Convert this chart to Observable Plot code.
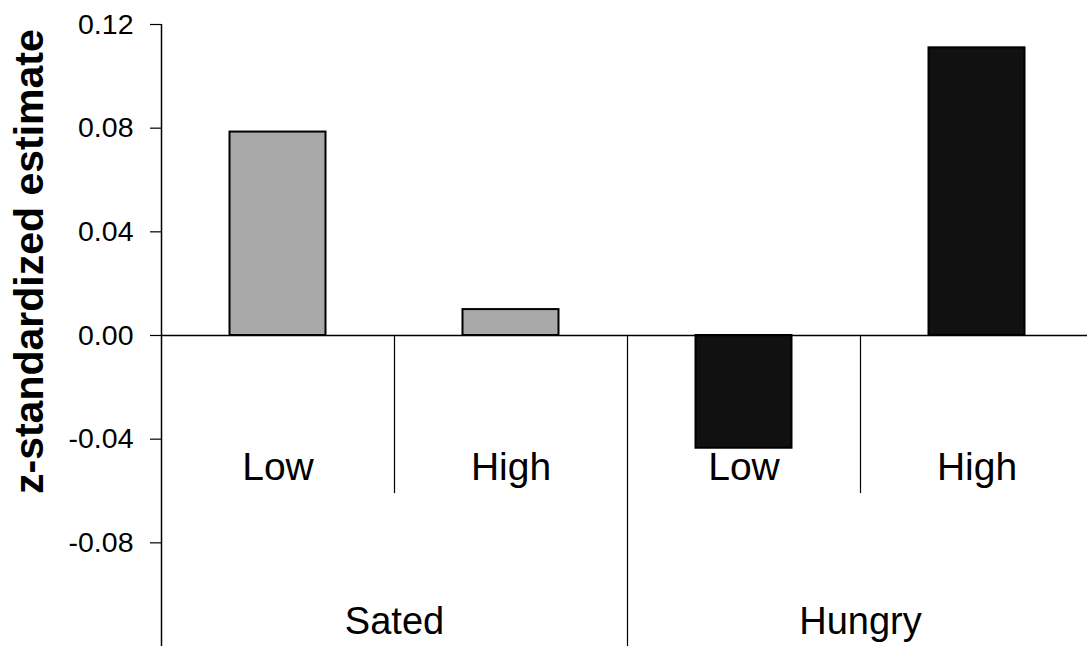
<!DOCTYPE html>
<html>
<head>
<meta charset="utf-8">
<script src="https://cdn.jsdelivr.net/npm/d3@7"></script>
<script src="https://cdn.jsdelivr.net/npm/@observablehq/plot@0.6"></script>
<style>
  html, body { margin: 0; padding: 0; background: #fff; }
  svg { font-family: "Liberation Sans", Arial, sans-serif; }
</style>
</head>
<body>
<div id="chart"></div>
<script>
const conditions = ["Low", "High", "Low", "High"];
const groupOf = ["Sated", "Sated", "Hungry", "Hungry"];
const groups = ["Sated", "Hungry"];
const values = [0.0785, 0.010, -0.0435, 0.111];
const yTicks = [-0.08, -0.04, 0, 0.04, 0.08, 0.12];
const yTitle = "z-standardized estimate";

const data = conditions.map((c, i) => ({ i, condition: c, group: groupOf[i], value: values[i] }));
const groupData = groups.map((g, k) => ({ group: g, center: 2 * k + 1 }));
const separators = [
  { pos: 1, depth: -0.061 },
  { pos: 2, depth: -0.12 },
  { pos: 3, depth: -0.061 }
];
const half = 0.206;

const chart = Plot.plot({
  width: 1087,
  height: 646,
  marginTop: 24,
  marginBottom: 0,
  marginLeft: 161,
  marginRight: 0,
  x: { type: "linear", domain: [0, 4], range: [161, 1093], axis: null },
  y: { domain: [-0.12, 0.12], axis: null },
  marks: [
    Plot.rect(data, {
      x1: d => d.i + 0.5 - half,
      x2: d => d.i + 0.5 + half,
      y1: 0,
      y2: "value",
      fill: d => d.group === "Sated" ? "#a9a9a9" : "#111111",
      stroke: "#000",
      strokeWidth: 2
    }),
    Plot.ruleY([0], { x1: 0, x2: 4, stroke: "#000", strokeWidth: 1.5 }),
    Plot.ruleX([0], { y1: -0.12, y2: 0.12, stroke: "#000", strokeWidth: 1.5 }),
    Plot.ruleX(separators, { x: "pos", y1: 0, y2: "depth", stroke: "#000", strokeWidth: 1.2 }),
    Plot.axisY({
      ticks: yTicks,
      tickFormat: d => d.toFixed(2),
      tickSize: 11,
      tickPadding: 17,
      fontSize: 28.5,
      stroke: "#000",
      strokeWidth: 1.2,
      fill: "#000",
      label: null
    }),
    Plot.text(data, {
      x: d => d.i + 0.5,
      y: -0.051,
      text: "condition",
      fontSize: 39,
      fill: "#000",
      textAnchor: "middle",
      lineAnchor: "middle"
    }),
    Plot.text(groupData, {
      x: "center",
      y: -0.1105,
      text: "group",
      fontSize: 38,
      fill: "#000",
      textAnchor: "middle",
      lineAnchor: "middle"
    }),
    Plot.text([yTitle], {
      frameAnchor: "left",
      y: 0.0285,
      dx: -132,
      text: d => d,
      rotate: -90,
      fontSize: 41,
      fontWeight: "bold",
      fill: "#000",
      textAnchor: "middle",
      lineAnchor: "middle"
    })
  ]
});
document.getElementById("chart").appendChild(chart);
</script>
</body>
</html>
